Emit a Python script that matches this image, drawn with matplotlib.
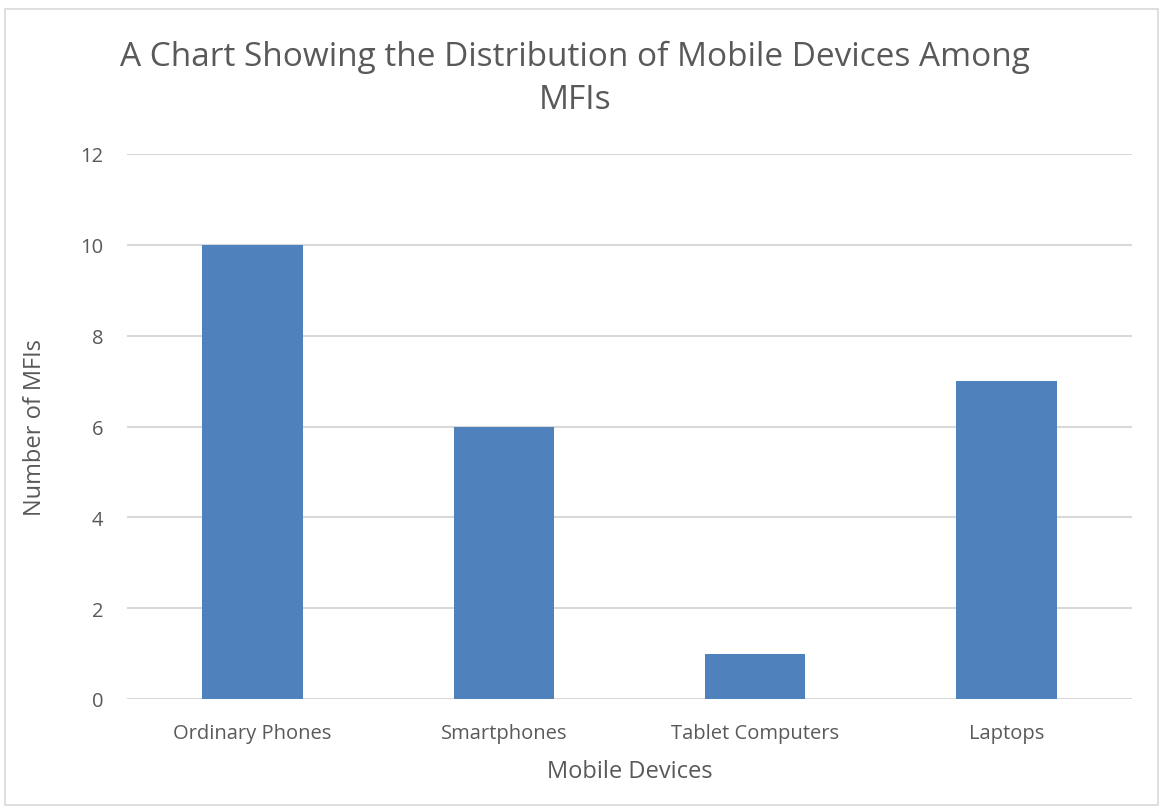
import matplotlib.pyplot as plt
from matplotlib.patches import Rectangle

devices = ['Ordinary Phones', 'Smartphones', 'Tablet Computers', 'Laptops']
counts = [10, 6, 1, 7]
y_ticks = [0, 2, 4, 6, 8, 10, 12]

plt.rcParams['font.family'] = ['Open Sans', 'DejaVu Sans']
text_color = '#595959'

fig = plt.figure(figsize=(11.6, 8.12), dpi=100)
ax = fig.add_axes([127 / 1160, 112 / 812, 1005 / 1160, 545 / 812])

ax.bar(range(len(devices)), counts, width=0.4, color='#4F81BD', zorder=3)

ax.set_xlim(-0.5, len(devices) - 0.5)
ax.set_ylim(0, 12)
ax.set_yticks(y_ticks)
ax.set_xticks(range(len(devices)))
ax.set_xticklabels(devices)
ax.grid(axis='y', color='#D9D9D9', linewidth=1.5, zorder=0)
for s in ax.spines.values():
    s.set_visible(False)
ax.tick_params(axis='both', length=0, labelsize=14.5, labelcolor=text_color)
ax.tick_params(axis='y', pad=17)
ax.tick_params(axis='x', pad=17)

ax.set_xlabel('Mobile Devices', fontsize=17, color=text_color, labelpad=12)
ax.set_ylabel('Number of MFIs', fontsize=17, color=text_color, labelpad=24)

fig.text(575 / 1160, 1 - 79 / 812, 'A Chart Showing the Distribution of Mobile Devices Among\nMFIs',
         ha='center', va='center', fontsize=24, color=text_color, linespacing=1.4)

# light border around the whole chart area
fig.patches.append(Rectangle((5 / 1160, 6 / 812), 1153 / 1160, 796 / 812,
                             transform=fig.transFigure, fill=False,
                             edgecolor='#D9D9D9', linewidth=1.2))

fig.savefig('out.png', dpi=100, facecolor='white')
